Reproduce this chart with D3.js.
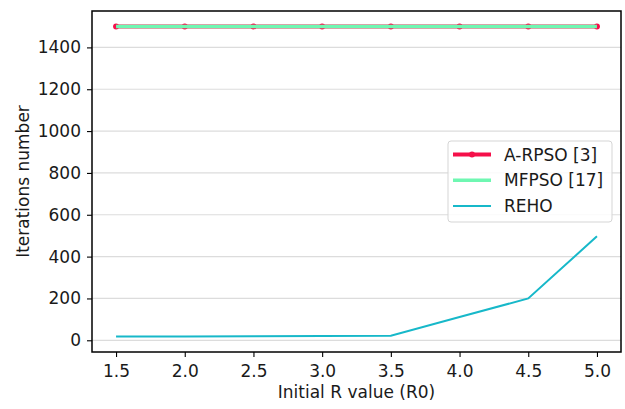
<!DOCTYPE html>
<html>
<head>
<meta charset="utf-8">
<script src="https://cdn.jsdelivr.net/npm/d3@7/dist/d3.min.js"></script>
<style>
  body { margin: 0; background: #fff; }
  svg { font-family: "DejaVu Sans", sans-serif; }
</style>
</head>
<body>
<svg id="chart"></svg>
<script>
// chart data
const r0 = [1.5, 2.0, 2.5, 3.0, 3.5, 4.0, 4.5, 5.0];
const arpso = [1500, 1500, 1500, 1500, 1500, 1500, 1500, 1500];
const mfpso = [1500, 1500, 1500, 1500, 1500, 1500, 1500, 1500];
const reho = [18, 18, 19, 20, 22, 111, 200, 497];
const xTicks = [1.5, 2.0, 2.5, 3.0, 3.5, 4.0, 4.5, 5.0];
const yTicks = [0, 200, 400, 600, 800, 1000, 1200, 1400];
const seriesNames = ["A-RPSO [3]", "MFPSO [17]", "REHO"];

const width = 625, height = 409;
const margin = { left: 92, right: 4, top: 11, bottom: 57 };
const fontSize = 17;

const svg = d3.select("#chart")
    .attr("width", width)
    .attr("height", height);

// scales (matplotlib style 5% margins)
const x = d3.scaleLinear()
    .domain([1.325, 5.175])
    .range([margin.left, width - margin.right]);
const y = d3.scaleLinear()
    .domain([-56, 1574])
    .range([height - margin.bottom, margin.top]);

// grid
svg.append("g")
    .selectAll("line")
    .data(yTicks)
    .enter().append("line")
    .attr("x1", margin.left)
    .attr("x2", width - margin.right)
    .attr("y1", d => y(d))
    .attr("y2", d => y(d))
    .attr("stroke", "#dcdcdc")
    .attr("stroke-width", 1.2);

const series = [
    { name: seriesNames[0], values: arpso, color: "#f5104a", width: 4, marker: true },
    { name: seriesNames[1], values: mfpso, color: "#6ff7b2", width: 3.5, marker: false },
    { name: seriesNames[2], values: reho, color: "#17b8c9", width: 2, marker: false }
];

const line = d3.line()
    .x((d, i) => x(r0[i]))
    .y(d => y(d));

series.forEach(s => {
    svg.append("path")
        .datum(s.values)
        .attr("d", line)
        .attr("fill", "none")
        .attr("stroke", s.color)
        .attr("stroke-width", s.width);
    if (s.marker) {
        svg.append("g")
            .selectAll("circle")
            .data(s.values)
            .enter().append("circle")
            .attr("cx", (d, i) => x(r0[i]))
            .attr("cy", d => y(d))
            .attr("r", 3)
            .attr("fill", s.color);
    }
});

// axes
const xAxis = svg.append("g")
    .attr("transform", `translate(0,${height - margin.bottom})`)
    .call(d3.axisBottom(x).tickValues(xTicks).tickFormat(d3.format(".1f")).tickSize(5).tickPadding(7.5));
const yAxis = svg.append("g")
    .attr("transform", `translate(${margin.left},0)`)
    .call(d3.axisLeft(y).tickValues(yTicks).tickFormat(d3.format("d")).tickSize(5).tickPadding(6));

[xAxis, yAxis].forEach(a => {
    a.attr("font-family", null).attr("font-size", null);
    a.select(".domain").remove();
    a.selectAll("text").attr("font-size", fontSize).attr("fill", "#1a1a1a");
    a.selectAll("line").attr("stroke", "#000").attr("stroke-width", 1.1);
});

// frame
svg.append("rect")
    .attr("x", margin.left)
    .attr("y", margin.top)
    .attr("width", width - margin.left - margin.right)
    .attr("height", height - margin.top - margin.bottom)
    .attr("fill", "none")
    .attr("stroke", "#000")
    .attr("stroke-width", 1.5);

// axis labels
svg.append("text")
    .attr("x", (margin.left + width - margin.right) / 2)
    .attr("y", 398)
    .attr("text-anchor", "middle")
    .attr("font-size", fontSize)
    .attr("fill", "#1a1a1a")
    .text("Initial R value (R0)");

svg.append("text")
    .attr("transform", `translate(29,${(margin.top + height - margin.bottom) / 2}) rotate(-90)`)
    .attr("text-anchor", "middle")
    .attr("font-size", fontSize)
    .attr("fill", "#1a1a1a")
    .text("Iterations number");

// legend
const legend = svg.append("g").attr("transform", "translate(448,141)");
legend.append("rect")
    .attr("width", 164)
    .attr("height", 81)
    .attr("rx", 3)
    .attr("fill", "#fff")
    .attr("fill-opacity", 0.85)
    .attr("stroke", "#d5d5d5")
    .attr("stroke-width", 1);

series.forEach((s, i) => {
    const gy = 13.5 + i * 25.7;
    legend.append("line")
        .attr("x1", 5).attr("x2", 43)
        .attr("y1", gy).attr("y2", gy)
        .attr("stroke", s.color)
        .attr("stroke-width", s.width);
    if (s.marker) {
        legend.append("circle")
            .attr("cx", 24).attr("cy", gy).attr("r", 3)
            .attr("fill", s.color);
    }
    legend.append("text")
        .attr("x", 56)
        .attr("y", gy + 6)
        .attr("font-size", fontSize)
        .attr("fill", "#1a1a1a")
        .text(s.name);
});
</script>
</body>
</html>
